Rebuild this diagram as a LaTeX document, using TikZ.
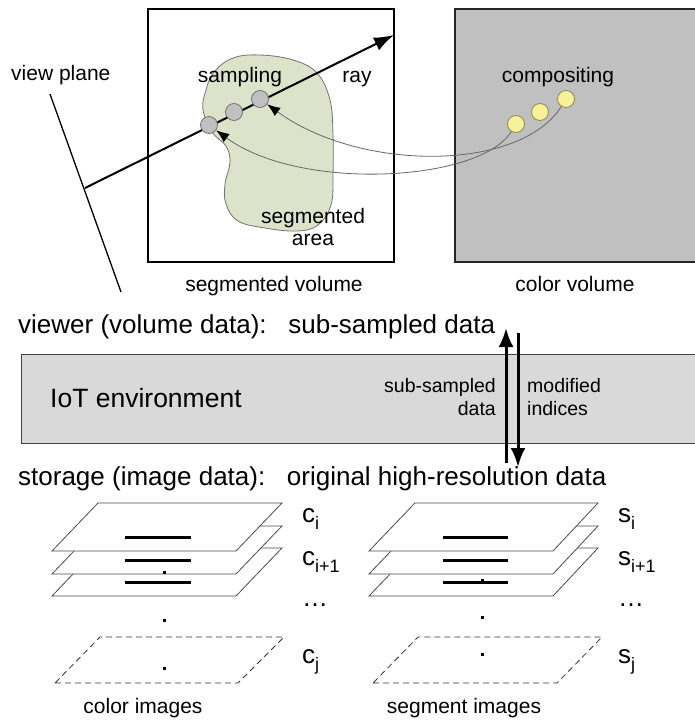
\documentclass[tikz,border=0pt]{standalone}
\usepackage{fontspec}
\setmainfont{Liberation Sans}
\usetikzlibrary{arrows.meta}

\definecolor{blobfill}{HTML}{DDE3CB}
\definecolor{volgray}{HTML}{C0C0C0}
\definecolor{iotgray}{HTML}{D9D9D9}
\definecolor{compfill}{HTML}{F6F29C}
\definecolor{compline}{HTML}{8F8A4A}

\newcommand{\sub}[1]{\raisebox{-0.28em}{\fontsize{18}{20}\selectfont #1}}

\begin{document}
\begin{tikzpicture}[x=1pt,y=-1pt,
  lbl/.style={inner sep=0pt, font=\fontsize{21}{23}\selectfont, anchor=base},
  mid/.style={inner sep=0pt, font=\fontsize{19.5}{23}\selectfont},
  big/.style={inner sep=0pt, font=\fontsize{26}{30}\selectfont, anchor=base west},
  sample/.style={circle, draw=black!55, fill=volgray, minimum size=17pt, inner sep=0pt, line width=0.8pt},
  compo/.style={circle, draw=compline, fill=compfill, minimum size=17pt, inner sep=0pt, line width=0.8pt},
  feed/.style={draw=black!60, line width=0.8pt, -{Latex[length=13pt,width=10pt,color=black]}},
  transfer/.style={line width=3pt, -{Latex[length=19pt,width=15pt]}},
  plane/.style={draw=black!70, fill=white, line width=0.8pt},
  dplane/.style={draw=black!80, line width=0.8pt, dash pattern=on 6pt off 4pt},
  bar/.style={line width=3pt},
  dot/.style={fill=black}
]
\useasboundingbox (0,0) rectangle (694,720);

% ---------- volume rendering ----------
\draw[line width=1.3pt] (148,9) rectangle (394,262);
\fill[volgray] (455,9) rectangle (700,262);
\draw[line width=1.3pt, black!85] (700,9) -- (455,9) -- (455,262) -- (700,262);

% segmented region
\draw[draw=black!55, fill=blobfill, line width=0.8pt]
  plot[smooth cycle, tension=0.65] coordinates {
    (203,110) (206,90) (214,72) (233,58) (260,55) (293,60) (317,73)
    (330,100) (333,135) (333,175) (331,205) (318,225) (297,231)
    (265,228) (238,221) (226,204) (225,184) (230,162) (226,146)
    (213,133) };

% view plane and ray
\coordinate (vptop) at (50,94);
\coordinate (vpbot) at (121,292);
\coordinate (rayorg) at (85,188);
\coordinate (raytip) at (394,35);
\draw[line width=1.3pt] (vptop) -- (vpbot);
\draw[line width=2pt, -{Latex[length=20pt,width=14pt]}] (rayorg) -- (raytip);

\node[sample] (g1) at (209,125) {};
\node[sample] (g2) at (234,112) {};
\node[sample] (g3) at (260,99) {};

\node[compo] (y1) at (516,124) {};
\node[compo] (y2) at (540,112) {};
\node[compo] (y3) at (566,99) {};

\draw[feed] (y3) .. controls (520,172) and (360,172) .. (g3);
\draw[feed] (y1) .. controls (480,182) and (300,192) .. (g1);

\node[lbl, anchor=base west] (vplbl) at (11,80) {view plane};
\node[lbl] (samplbl) at (240,82) {sampling};
\node[lbl] (raylbl) at (357,82) {ray};
\node[lbl] (complbl) at (558,82) {compositing};
\node[lbl] (seglbl1) at (313,223) {segmented};
\node[lbl] (seglbl2) at (313,245) {area};
\node[lbl] (svlbl) at (274,291) {segmented volume};
\node[lbl] (cvlbl) at (575,291) {color volume};

% ---------- IoT transfer ----------
\node[big] (viewer) at (18,333) {viewer (volume data):\ \ \ sub-sampled data};
\draw[fill=iotgray, draw=black!75, line width=0.9pt] (21,354) rectangle (700,443);
\node[big, font=\fontsize{26.5}{30}\selectfont] (iot) at (50,407) {IoT environment};
\node[big] (storage) at (18,485) {storage (image data):\ \ \ original high-resolution data};

\node[mid, anchor=base east] (ss1) at (496,392) {sub-sampled};
\node[mid, anchor=base east] (ss2) at (496,415) {data};
\node[mid, anchor=base west] (mi1) at (527,392) {modified};
\node[mid, anchor=base west] (mi2) at (527,415) {indices};

\coordinate (upS) at (506,463);
\coordinate (upE) at (506,328);
\coordinate (dnS) at (518,333);
\coordinate (dnE) at (518,467);
\draw[transfer] (upS) -- (upE);
\draw[transfer] (dnS) -- (dnE);

% ---------- image stacks ----------
\foreach \dy in {45,23,0} {
  \draw[plane] (52,551+\dy) -- (236,551+\dy) -- (282,503+\dy) -- (98,503+\dy) -- cycle;
  \draw[bar] (125,537+\dy) -- (191,537+\dy);
  \draw[plane] (369,551+\dy) -- (553,551+\dy) -- (598,503+\dy) -- (415,503+\dy) -- cycle;
  \draw[bar] (443,537+\dy) -- (508,537+\dy);
}
\draw[dplane] (55,683) -- (238,683) -- (284,637) -- (100,637) -- cycle;
\draw[dplane] (373,683) -- (557,683) -- (602,637) -- (418,637) -- cycle;

\foreach \yy in {572,620,668} \fill[dot] (162.5,\yy-1.5) rectangle ++(3,3);
\foreach \yy in {580,617,654} \fill[dot] (480.5,\yy-1.5) rectangle ++(3,3);

\node[big] (ci) at (302,522) {c\sub{i}};
\node[big] (ci1) at (302,565) {c\sub{i+1}};
\node[big] (cdots) at (302,606) {\dots};
\node[big] (cj) at (302,663) {c\sub{j}};
\node[big] (si) at (618,522) {s\sub{i}};
\node[big] (si1) at (618,565) {s\sub{i+1}};
\node[big] (sdots) at (618,606) {\dots};
\node[big] (sj) at (618,663) {s\sub{j}};

\node[lbl] (cimg) at (143,713) {color images};
\node[lbl] (simg) at (464,713) {segment images};
\end{tikzpicture}
\end{document}
